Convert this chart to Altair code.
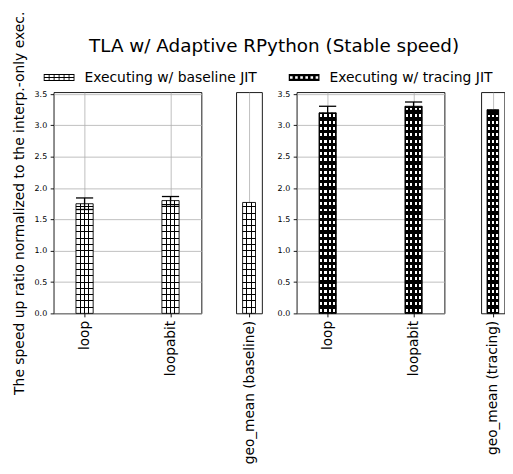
import json
import altair as alt
import pandas as pd

# ---------------- data ----------------
benchmarks = ["loop", "loopabit"]
baseline_speedup = [1.75, 1.80]
baseline_err = [0.092, 0.065]
tracing_speedup = [3.20, 3.305]
tracing_err = [0.105, 0.068]
geo_baseline_label = ["geo_mean (baseline)"]
geo_baseline_value = [1.77]
geo_tracing_label = ["geo_mean (tracing)"]
geo_tracing_value = [3.25]
series_names = ["Executing w/ baseline JIT", "Executing w/ tracing JIT"]
y_ticks = [0.0, 0.5, 1.0, 1.5, 2.0, 2.5, 3.0, 3.5]

TITLE = "TLA w/ Adaptive RPython (Stable speed)"
Y_TITLE = "The speed up ratio normalized to the interp.-only exec."
FONT = "DejaVu Sans"

# ---------------- layout / style ----------------
Y_MAX = 3.53
PANEL_H = 223
WIDE_W = 149
NARROW_W = 26
WIDE_DOMAIN = [-0.36, 1.36]
NARROW_DOMAIN = [-0.2, 0.2]
HALF_BAR = 0.1
PX_PER_UNIT = PANEL_H / Y_MAX
HATCH_STEP = 0.1
CLEAR = "rgba(0,0,0,0)"


def band_gradient(centers, half, base, ink, along_x):
    stops = [alt.GradientStop(offset=0, color=base)]
    for c in centers:
        lo = round(max(0.0, c - half), 4)
        hi = round(min(1.0, c + half), 4)
        stops += [
            alt.GradientStop(offset=lo, color=base),
            alt.GradientStop(offset=lo, color=ink),
            alt.GradientStop(offset=hi, color=ink),
            alt.GradientStop(offset=hi, color=base),
        ]
    stops.append(alt.GradientStop(offset=1, color=base))
    if along_x:
        return alt.LinearGradient(gradient="linear", stops=stops, x1=0, x2=1, y1=0, y2=0)
    return alt.LinearGradient(gradient="linear", stops=stops, x1=0, x2=0, y1=1, y2=0)


def column_gradient(kind, bar_px):
    n = max(2, round(bar_px / 4.4))
    if kind == "baseline":
        return band_gradient([k / n for k in range(1, n)], 0.5 / bar_px, "white", "black", True)
    return band_gradient([(k + 0.5) / n for k in range(n)], 1.1 / bar_px, "black", "white", True)


def row_gradient(kind, value):
    h_px = value * PX_PER_UNIT
    if kind == "baseline":
        rows = int(value / HATCH_STEP - 1e-6)
        centers = [k * HATCH_STEP / value for k in range(1, rows + 1)]
        return band_gradient(centers, 0.5 / h_px, CLEAR, "black", False)
    rows = int(value / HATCH_STEP)
    centers = [(k + 0.5) * HATCH_STEP / value for k in range(rows)]
    return band_gradient(centers, 1.5 / h_px, "black", CLEAR, False)


def symbol_path(kind):
    r = 15.5
    hw, hh, t = 15.5, 3.5, 0.9

    def f(v):
        return f"{v / r:.4f}"

    parts = [f"M{f(-hw)},{f(-hh)}H{f(hw)}V{f(hh)}H{f(-hw)}Z"]
    holes = []
    if kind == "baseline":
        cols, rows = 6, 2
        cw = (2 * hw - (cols + 1) * t) / cols
        ch = (2 * hh - (rows + 1) * t) / rows
        for i in range(cols):
            for j in range(rows):
                x0 = -hw + t + i * (cw + t)
                y0 = -hh + t + j * (ch + t)
                holes.append((x0, y0, x0 + cw, y0 + ch))
    else:
        n, s = 6, 2.6
        for i in range(n):
            cx = -hw + (i + 0.5) * (2 * hw / n)
            holes.append((cx - s / 2, -s / 2, cx + s / 2, s / 2))
    for x0, y0, x1, y1 in holes:
        parts.append(f"M{f(x0)},{f(y0)}V{f(y1)}H{f(x1)}V{f(y0)}Z")
    return "".join(parts)


def build_panel(names, values, errs, kind, width, domain, y_extent, y_mode, extra=None):
    df = pd.DataFrame({"name": names, "idx": list(range(len(names))), "value": values})
    if errs is not None:
        df["err"] = errs
    xscale = alt.Scale(domain=domain, nice=False, zero=False)
    xaxis = alt.Axis(
        values=list(range(len(names))),
        labelExpr=f"{json.dumps(names)}[datum.value]",
        labelAngle=270, title=None, grid=True, domain=False,
        labelFontSize=13.8, tickSize=3.5, labelPadding=3.5,
    )
    yscale = alt.Scale(domain=[0, Y_MAX], nice=False, zero=True)
    if y_mode == "first":
        yaxis = alt.Axis(values=y_ticks, format=".1f", grid=True, title=Y_TITLE,
                         labelFontSize=8, tickSize=3.5, labelPadding=3.5, domain=False,
                         titleFontSize=14.0, titlePadding=7,
                         minExtent=y_extent, maxExtent=y_extent)
    elif y_mode == "second":
        yaxis = alt.Axis(values=y_ticks, format=".1f", grid=True, title=None,
                         labelFontSize=8, tickSize=3.5, labelPadding=3.5, domain=False,
                         minExtent=y_extent, maxExtent=y_extent)
    else:
        yaxis = alt.Axis(values=y_ticks, labels=True, labelOpacity=0, ticks=False, grid=False,
                         domain=False, title=None, labelFontSize=8,
                         minExtent=y_extent, maxExtent=y_extent)

    bar_px = 2 * HALF_BAR * width / (domain[1] - domain[0])
    base = alt.Chart(df).transform_calculate(
        x0=f"datum.idx - {HALF_BAR}", x1=f"datum.idx + {HALF_BAR}"
    )

    def enc():
        return dict(
            x=alt.X("x0:Q", scale=xscale, axis=xaxis),
            x2=alt.X2("x1:Q"),
            y=alt.Y("value:Q", scale=yscale, axis=yaxis),
            y2=alt.datum(0),
        )

    layers = [base.mark_bar(fill=column_gradient(kind, bar_px), strokeWidth=0).encode(**enc())]
    for i, v in enumerate(values):
        layers.append(
            base.transform_filter(f"datum.idx == {i}")
            .mark_bar(fill=row_gradient(kind, v), stroke="black", strokeWidth=0.9)
            .encode(**enc())
        )
    if errs is not None:
        eb = base.transform_calculate(lo="datum.value - datum.err", hi="datum.value + datum.err")
        layers.append(
            eb.mark_rule(color="black", strokeWidth=1.3).encode(
                x=alt.X("idx:Q", scale=xscale, axis=xaxis),
                y=alt.Y("lo:Q", scale=yscale, axis=yaxis),
                y2=alt.Y2("hi:Q"),
            )
        )
        for f in ["lo", "hi"]:
            layers.append(
                eb.mark_rule(color="black", strokeWidth=1.3).encode(
                    x=alt.X("x0:Q", scale=xscale, axis=xaxis),
                    x2=alt.X2("x1:Q"),
                    y=alt.Y(f"{f}:Q", scale=yscale, axis=yaxis),
                )
            )
    if extra is not None:
        layers.append(extra)
    return alt.layer(*layers).properties(width=width, height=PANEL_H)


legend_df = pd.DataFrame({"series": series_names})
legend_layer = (
    alt.Chart(legend_df)
    .transform_filter("false")
    .mark_point(filled=True, opacity=1, color="black", strokeWidth=0)
    .encode(
        shape=alt.Shape(
            "series:N",
            scale=alt.Scale(domain=series_names,
                            range=[symbol_path("baseline"), symbol_path("tracing")]),
            legend=alt.Legend(
                orient="none", legendX=-10, legendY=-30.5, direction="horizontal",
                title=None, labelFont=FONT, labelFontSize=14, labelColor="black",
                labelLimit=400,
                symbolSize=961, symbolStrokeWidth=0, symbolFillColor="black",
                symbolOpacity=1, columnPadding=32, labelOffset=10, padding=0,
            ),
        )
    )
)

p1 = build_panel(benchmarks, baseline_speedup, baseline_err, "baseline", WIDE_W, WIDE_DOMAIN,
                 20, "first", extra=legend_layer)
p2 = build_panel(geo_baseline_label, geo_baseline_value, None, "baseline", NARROW_W,
                 NARROW_DOMAIN, 33.5, "blank")
p3 = build_panel(benchmarks, tracing_speedup, tracing_err, "tracing", WIDE_W, WIDE_DOMAIN,
                 33, "second")
p4 = build_panel(geo_tracing_label, geo_tracing_value, None, "tracing", 23.5,
                 NARROW_DOMAIN, 35.5, "blank")

chart = (
    alt.hconcat(p1, p2, p3, p4, spacing=0)
    .resolve_scale(x="independent", y="independent")
    .properties(
        title=alt.TitleParams(TITLE, fontSize=18.5, font=FONT, fontWeight="normal",
                              anchor="middle", color="black", offset=-45.5, dx=15.5),
        padding={"left": 4, "top": 0, "right": 0, "bottom": 0},
        background="white",
    )
    .configure_view(stroke="black", strokeWidth=0.9)
    .configure_axis(
        labelFont=FONT, titleFont=FONT, labelColor="black", titleColor="black",
        tickColor="black", gridColor="#b0b0b0", gridWidth=0.8, titleFontWeight="normal",
        tickWidth=0.9,
    )
)

chart.save("out.html", embed_options={"renderer": "svg", "actions": False})
